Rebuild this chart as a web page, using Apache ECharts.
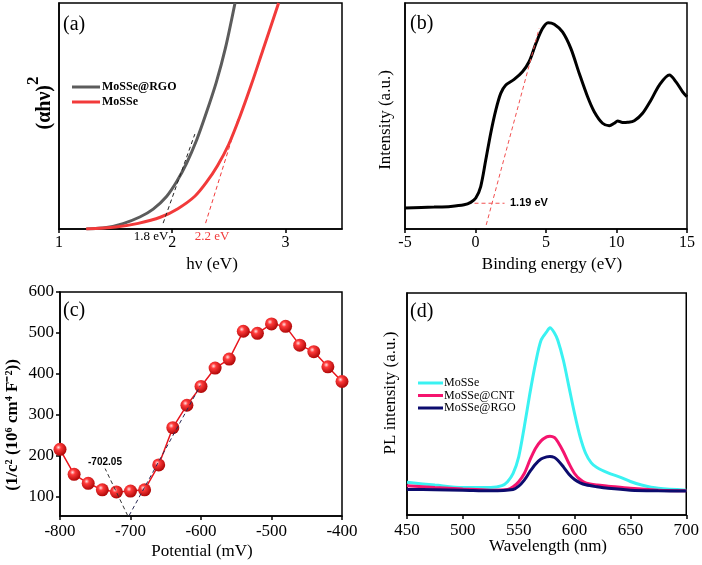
<!DOCTYPE html>
<html><head><meta charset="utf-8">
<script src="https://cdn.jsdelivr.net/npm/echarts@6/dist/echarts.min.js"></script>
<style>html,body{margin:0;padding:0;background:#fff}#c{width:702px;height:565px}</style>
</head><body><div id="c"></div>
<script>
// ---- Panel (a): Tauc plot ----
const aX_RGO = [1.242,1.42,1.566,1.714,1.832,1.95,2.04,2.127,2.216,2.30,2.39,2.47,2.555];
const aY_RGO = [0,0.7,2.4,5.3,8.8,14.4,21,29.1,39.4,51.2,65,80,100];
const aX_MoSSe = [1.24,1.5,1.7,1.9,2.05,2.2,2.3,2.4,2.5,2.6,2.7,2.8,2.94];
const aY_MoSSe = [0,0.9,2.5,5.3,9,14.5,20.5,28,37.5,50,64,79,100];
const aTangentRGO = [[1.92,2.6],[2.2,42]];
const aTangentMoSSe = [[2.295,2.6],[2.584,49]];
const aTicks = [1,2,3];
// ---- Panel (b): valence band XPS ----
const bX = [-5,-2.94,-1.76,-0.81,-0.34,0.02,0.37,0.73,1.08,1.44,1.79,2.15,2.74,3.33,3.8,4.28,4.75,5.15,5.58,6.17,6.76,7.36,7.95,8.42,9.01,9.49,9.84,10.08,10.43,10.79,11.26,11.85,12.44,13.04,13.75,14.22,14.69,15];
const bY = [9.3,9.7,10,10.7,11.8,13.7,18.8,30.6,42.4,52.6,60,63.7,66.2,69.6,74,82,88.7,91.3,90.6,87.2,79.9,68.8,58.5,51.9,46.8,45.7,46.8,47.8,47.1,47.2,47.9,51.2,57,63.7,68.1,65.1,60.7,58.5];
const bTangent = [[0.76,1.8],[4.51,88.7]];
const bBaseline = [[-0.07,11.4],[2.06,11.4]];
// ---- Panel (c): Mott-Schottky ----
const cX = [-800,-780,-760,-740,-720,-700,-680,-660,-640,-620,-600,-580,-560,-540,-520,-500,-480,-460,-440,-420,-400];
const cY = [215,154,132,116,111,113,116,177,268,323,369,414,436,504,499,522,516,470,454,417,381];
const cYTicks = [100,200,300,400,500,600];
const cArrowLine = [[-704,53],[-736,168]];
const cRightLine = [[-702,53],[-601,371]];
// ---- Panel (d): PL ----
const dX_MoSSe = [450,475,500,525,535,540,545,550,555,560,565,570,575,578,582,585,590,595,600,605,610,615,620,630,640,650,660,675,700];
const dY_MoSSe = [14.7,13.5,12.4,12.4,13.2,15,18.7,26.2,39.7,54.7,68.2,78.7,82.5,84.3,82,78.7,69.7,57.7,45.7,35.2,27.7,23.5,21.4,19,17.2,15.1,13.5,12,11.2];
const dX_CNT = [450,475,500,525,540,545,550,555,560,565,570,575,578,582,585,590,595,600,605,610,620,630,650,675,700];
const dY_CNT = [13.2,12.4,11.7,11.2,11.5,12.7,15,18.7,24.7,30,33.4,35.2,35.5,34.9,33,28.5,23.2,18.7,16,14.5,13.5,13,12,11.2,10.9];
const dX_RGO = [450,475,500,525,545,550,555,560,565,570,575,578,582,585,590,595,600,605,610,620,630,650,675,700];
const dY_RGO = [11.5,11.4,11.2,10.9,11.5,13,15.7,19.5,22.9,25.2,26.2,26.4,25.9,24.7,21.7,18.4,16,14.5,13.6,12.7,12,11.2,10.9,10.8];

const zip = (xs, ys) => xs.map((x, i) => [x, ys[i]]);
const SERIF = '"Liberation Serif","Times New Roman",serif';
const SANS = '"Liberation Sans",Arial,sans-serif';
const BLK = {color:'#000', width:1.5};

function xAxis(gi, min, max, interval, extra) {
  const ax = {type:'value', gridIndex:gi, min, max, interval,
    axisLine:{onZero:false, lineStyle:BLK}, axisTick:{length:4, lineStyle:BLK},
    axisLabel:{color:'#000', fontFamily:SERIF, fontSize:16, margin:6},
    splitLine:{show:false}};
  return Object.assign(ax, extra || {});
}
function yBlank(gi) {
  return {type:'value', gridIndex:gi, min:0, max:100,
    axisLine:{show:true, onZero:false, lineStyle:BLK}, axisTick:{show:false}, axisLabel:{show:false}, splitLine:{show:false}};
}
const gridBase = {show:true, borderColor:'#000', borderWidth:1.5, backgroundColor:'transparent'};
const dashed = (data, color, gi, w) => ({type:'line', xAxisIndex:gi, yAxisIndex:gi, data, symbol:'none', silent:true,
  lineStyle:{color, width:w||1, type:[4,3]}, z:5});
const curve = (name, gi, data, color) => ({name, type:'line', xAxisIndex:gi, yAxisIndex:gi, data,
  smooth:0.3, symbol:'none', lineStyle:{color, width:3}, itemStyle:{color}});

function txt(x, y, text, font, fill, align, rot, extra) {
  return {type:'text', x, y, rotation: rot || 0,
    style:Object.assign({text, x:0, y:0, font, fill: fill || '#000', align: align || 'center', verticalAlign:'middle'}, extra || {})};
}

const option = {
  animation:false,
  backgroundColor:'#fff',
  grid:[
    Object.assign({left:59, top:3, width:283, height:226}, gridBase),
    Object.assign({left:405, top:3, width:282, height:226}, gridBase),
    Object.assign({left:60, top:292, width:282, height:224}, gridBase),
    Object.assign({left:407, top:293, width:281, height:222}, gridBase)
  ],
  xAxis:[
    xAxis(0, 1, 3.5, 1, {axisLabel:{color:'#000', fontFamily:SERIF, fontSize:16, margin:6, customValues:aTicks}, axisTick:{length:4, lineStyle:BLK, customValues:aTicks}}),
    xAxis(1, -5, 15, 5),
    xAxis(2, -800, -400, 100, {axisLabel:{color:'#000', fontFamily:SERIF, fontSize:17, margin:7}}),
    xAxis(3, 450, 700, 50, {axisLabel:{color:'#000', fontFamily:SERIF, fontSize:17, margin:7}})
  ],
  yAxis:[
    yBlank(0), yBlank(1),
    {type:'value', gridIndex:2, min:52, max:600,
      axisLine:{show:true, onZero:false, lineStyle:BLK}, axisTick:{length:4, lineStyle:BLK, customValues:cYTicks},
      axisLabel:{color:'#000', fontFamily:SERIF, fontSize:17, margin:6, customValues:cYTicks}, splitLine:{show:false}},
    yBlank(3)
  ],
  legend:[
    {left:67, top:76, orient:'vertical', icon:'rect', itemWidth:28, itemHeight:3, itemGap:3,
      data:['a:MoSSe@RGO','a:MoSSe'], formatter: n => n.split(':')[1],
      textStyle:{fontFamily:SERIF, fontWeight:'bold', fontSize:12, color:'#000', padding:[0,0,0,-3]}},
    {left:413, top:372, orient:'vertical', icon:'rect', itemWidth:25, itemHeight:3, itemGap:0.5,
      data:['d:MoSSe','d:MoSSe@CNT','d:MoSSe@RGO'], formatter: n => n.split(':')[1],
      textStyle:{fontFamily:SERIF, fontSize:12, color:'#000', padding:[0,0,0,-4]}}
  ],
  series:[
    curve('a:MoSSe@RGO', 0, zip(aX_RGO, aY_RGO), '#5c5c5c'),
    curve('a:MoSSe', 0, zip(aX_MoSSe, aY_MoSSe), '#f23a3a'),
    dashed(aTangentRGO, '#222', 0),
    dashed(aTangentMoSSe, '#f23a3a', 0),
    curve('b', 1, zip(bX, bY), '#000'),
    dashed(bTangent, '#f25050', 1),
    dashed(bBaseline, '#f25050', 1),
    {name:'c', type:'line', xAxisIndex:2, yAxisIndex:2, data:zip(cX, cY), symbol:'circle', symbolSize:13,
      lineStyle:{color:'#e8141c', width:1.5},
      itemStyle:{color:{type:'radial', x:0.38, y:0.35, r:0.65, colorStops:[
        {offset:0, color:'#ffe0e0'},{offset:0.3, color:'#ff3a3a'},{offset:1, color:'#b00808'}]}}, z:3},
    Object.assign(dashed([cArrowLine[0], cArrowLine[0]], '#333', 2), {
      markLine:{silent:true, symbol:['none','arrow'], symbolSize:[0,7], lineStyle:{color:'#333', type:[4,3], width:1}, label:{show:false},
        data:[[{coord:cArrowLine[0]},{coord:cArrowLine[1]}]]}}),
    dashed(cRightLine, '#2a2a55', 2),
    curve('d:MoSSe', 3, zip(dX_MoSSe, dY_MoSSe), '#3af2f2'),
    curve('d:MoSSe@CNT', 3, zip(dX_CNT, dY_CNT), '#f5146e'),
    curve('d:MoSSe@RGO', 3, zip(dX_RGO, dY_RGO), '#0c0c6e')
  ],
  graphic:[
    txt(63, 25, '(a)', '20px '+SERIF, '#000', 'left'),
    txt(410, 24, '(b)', '20px '+SERIF, '#000', 'left'),
    txt(63, 311, '(c)', '20px '+SERIF, '#000', 'left'),
    txt(410, 312, '(d)', '20px '+SERIF, '#000', 'left'),
    txt(151, 237, '1.8 eV', '13px '+SERIF, '#000'),
    txt(212, 237, '2.2 eV', '13px '+SERIF, '#f23a3a'),
    txt(510, 203, '1.19 eV', 'bold 11px '+SANS, '#000', 'left'),
    txt(105, 462, '-702.05', 'bold 10px '+SANS, '#000'),
    txt(212, 265, 'hν (eV)', '17px '+SERIF),
    txt(552, 265, 'Binding energy (eV)', '17px '+SERIF),
    txt(202, 552, 'Potential (mV)', '17px '+SERIF),
    txt(548, 547, 'Wavelength (nm)', '17px '+SERIF),
    txt(386, 120, 'Intensity (a.u.)', '17px '+SERIF, '#000', 'center', Math.PI/2),
    txt(391, 393, 'PL intensity (a.u.)', '17px '+SERIF, '#000', 'center', Math.PI/2),
    txt(13, 425, '(1/c² (10⁶ cm⁴ F⁻²))', 'bold 17px '+SERIF, '#000', 'center', Math.PI/2),
    txt(40, 103, '{m|(αhν)}{s|2}', 'bold 20px '+SERIF, '#000', 'center', Math.PI/2, {
      rich:{m:{fontFamily:SERIF, fontWeight:'bold', fontSize:20, lineHeight:30, verticalAlign:'bottom'},
            s:{fontFamily:SERIF, fontWeight:'bold', fontSize:17, lineHeight:30, verticalAlign:'top'}}})
  ]
};
const chart = echarts.init(document.getElementById('c'), null, {renderer:'canvas', width:702, height:565});
chart.setOption(option);
</script></body></html>
